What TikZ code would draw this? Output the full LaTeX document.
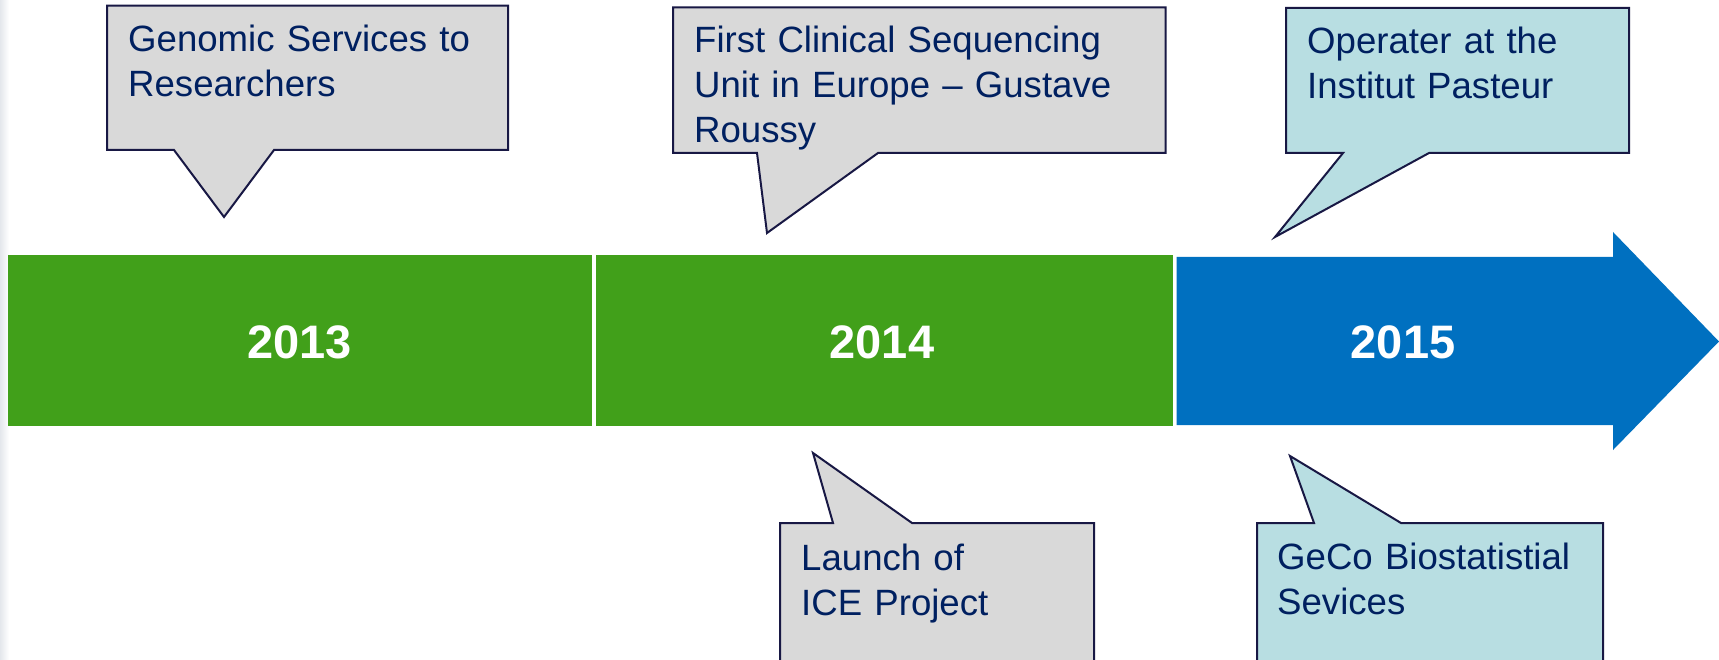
\documentclass[tikz,border=0pt]{standalone}
\usepackage{fontspec}
\setmainfont{Liberation Sans}
\definecolor{bargreen}{RGB}{65,160,26}
\definecolor{barblue}{RGB}{0,112,192}
\definecolor{notegray}{RGB}{217,217,217}
\definecolor{noteteal}{RGB}{184,222,226}
\definecolor{calloutline}{RGB}{24,24,68}
\definecolor{notetext}{RGB}{0,32,96}
\definecolor{edgegray}{RGB}{228,231,236}
\begin{document}
\begin{tikzpicture}[x=1pt,y=-1pt,
  callout/.style={draw=calloutline, line width=2pt, line join=miter},
  note/.style={anchor=base west, inner sep=0pt, text width=470pt, align=left,
    text=notetext, font=\fontsize{36.6}{45}\selectfont},
  year/.style={text=white, inner sep=0pt, font=\bfseries\fontsize{47}{56}\selectfont}]
\useasboundingbox (0,0) rectangle (1719,660);
\clip (0,0) rectangle (1719,660);
\fill[white] (0,0) rectangle (1719,660);
\shade[left color=edgegray, right color=white] (0,0) rectangle (9,660);

% timeline bars
\fill[bargreen] (8,255) rectangle (591.5,426);
\fill[bargreen] (596,255) rectangle (1172.5,426);
\fill[barblue] (1176.5,257) -- (1613,257) -- (1613,232) -- (1719,341.5)
  -- (1613,450) -- (1613,425) -- (1176.5,425) -- cycle;

\node[year] (y2013) at (299.5,342) {2013};
\node[year] (y2014) at (882,342) {2014};
\node[year] (y2015) at (1403,342) {2015};

% callouts above the timeline
\draw[callout, fill=notegray] (107,5.7) -- (508,5.7) -- (508,150) -- (274,150)
  -- (224,217) -- (174,150) -- (107,150) -- cycle;
\node[note] (genomic) at (128,52) {Genomic Services to\\Researchers};

\draw[callout, fill=notegray] (673,7.3) -- (1165.5,7.3) -- (1165.5,153) -- (878,153)
  -- (767,233) -- (757,153) -- (673,153) -- cycle;
\node[note] (clinical) at (694,53) {First Clinical Sequencing\\Unit in Europe – Gustave\\Roussy};

\draw[callout, fill=noteteal] (1286,8) -- (1629,8) -- (1629,153) -- (1429,153)
  -- (1275,237) -- (1343,153) -- (1286,153) -- cycle;
\node[note] (pasteur) at (1307,54) {Operater at the\\Institut Pasteur};

% callouts below the timeline
\draw[callout, fill=notegray] (780,523) -- (833,523) -- (813,453) -- (912,523)
  -- (1094,523) -- (1094,680) -- (780,680) -- cycle;
\node[note] (ice) at (801,570) {Launch of\\ICE Project};

\draw[callout, fill=noteteal] (1257,523) -- (1314,523) -- (1290,456) -- (1401,523)
  -- (1603,523) -- (1603,680) -- (1257,680) -- cycle;
\node[note] (geco) at (1277,569) {GeCo Biostatistial\\Sevices};
\end{tikzpicture}
\end{document}
